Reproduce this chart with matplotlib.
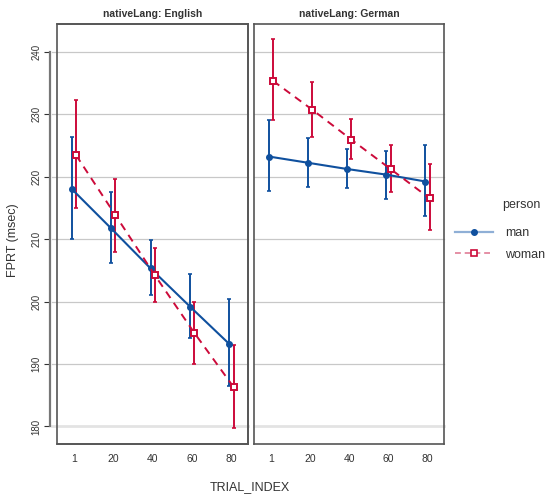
import matplotlib
matplotlib.use('Agg')
import matplotlib.pyplot as plt
from matplotlib.lines import Line2D
from matplotlib.patches import Rectangle
import numpy as np

plt.rcParams['font.family'] = ['Liberation Sans', 'DejaVu Sans']

# data
trial_labels = ['1', '20', '40', '60', '80']
panels = ['English', 'German']

man_eng = [218.0, 211.7, 205.3, 199.2, 193.2]
man_eng_lo = [210.0, 206.2, 201.1, 194.2, 186.4]
man_eng_hi = [226.4, 217.5, 209.9, 204.4, 200.4]

woman_eng = [223.4, 213.8, 204.2, 195.0, 186.3]
woman_eng_lo = [215.0, 208.0, 199.9, 190.0, 179.7]
woman_eng_hi = [232.2, 219.6, 208.6, 200.0, 193.1]

man_ger = [223.2, 222.2, 221.2, 220.3, 219.2]
man_ger_lo = [217.7, 218.4, 218.1, 216.4, 213.7]
man_ger_hi = [229.0, 226.2, 224.4, 224.1, 225.0]

woman_ger = [235.3, 230.7, 225.9, 221.2, 216.5]
woman_ger_lo = [229.0, 226.4, 222.8, 217.5, 211.5]
woman_ger_hi = [242.0, 235.2, 229.2, 225.0, 222.0]

y_ticks = [180, 190, 200, 210, 220, 230, 240]

blue = '#0F509E'
red = '#CC0A3A'
grid_col = '#C8C8C8'

data = {
    'English': [(man_eng, man_eng_lo, man_eng_hi), (woman_eng, woman_eng_lo, woman_eng_hi)],
    'German': [(man_ger, man_ger_lo, man_ger_hi), (woman_ger, woman_ger_lo, woman_ger_hi)],
}

fig = plt.figure(figsize=(5.46, 4.96), dpi=100)
ax_left = fig.add_axes([57/546, 1-444/496, 191/546, 420/496])
ax_right = fig.add_axes([254/546, 1-444/496, 190/546, 420/496])

x = np.arange(1, 6)
dodge = 0.055

for ax, lang in zip([ax_left, ax_right], panels):
    (m, mlo, mhi), (w, wlo, whi) = data[lang]
    m = np.array(m); w = np.array(w)
    # grid lines (left panel's reach out to the y axis line)
    x0 = -5/191 if ax is ax_left else 0
    for yt in y_ticks:
        if yt == 180:
            ax.axhline(yt, xmin=x0, color='#E3E3E3', lw=2.0, zorder=0, clip_on=False)
        else:
            ax.axhline(yt, xmin=x0, color=grid_col, lw=0.9, zorder=0, clip_on=False)
    ax.errorbar(x - dodge, m, yerr=[m - np.array(mlo), np.array(mhi) - m],
                fmt='none', ecolor=blue, elinewidth=1.4, capsize=1.5, capthick=1.2, zorder=2)
    ax.errorbar(x + dodge, w, yerr=[w - np.array(wlo), np.array(whi) - w],
                fmt='none', ecolor=red, elinewidth=1.4, capsize=1.5, capthick=1.2, zorder=2)
    ax.plot(x - dodge, m, color=blue, lw=1.5, marker='o', ms=4, zorder=3)
    ax.plot(x + dodge, w, color=red, lw=1.4, ls=(0, (4, 3)), marker='s', ms=5,
            mfc='white', mec=red, mew=1.4, zorder=4)

    ax.set_xlim(0.57, 5.42)
    ax.set_ylim(177.2, 244.4)
    ax.set_xticks(x)
    ax.set_xticklabels(trial_labels, fontsize=7.5, color='#333333')
    ax.tick_params(axis='x', length=0, pad=7)
    ax.set_title('nativeLang: ' + lang, fontsize=7.5, fontweight='bold', color='#333333', pad=5)
    for s in ax.spines.values():
        s.set_color('#555555')
        s.set_linewidth(1.2)

ax_right.set_yticks([])

# left y axis drawn outside the panel
ax_left.add_patch(Rectangle((0, 0), 1, 1, transform=ax_left.transAxes, fill=False,
                            ec='#555555', lw=1.2, clip_on=False, zorder=5))
ax_left.spines['left'].set_position(('outward', 5))
ax_left.spines['left'].set_bounds(180, 240)
ax_left.spines['left'].set_color('#777777')
ax_left.spines['left'].set_linewidth(1.6)
ax_left.tick_params(axis='y', length=4, pad=2, color='#333333')
ax_left.set_yticks(y_ticks)
ax_left.set_yticklabels([str(v) for v in y_ticks], rotation=90, va='center', ha='right',
                        fontsize=7, color='#333333')

fig.text(13/546, 1-240/496, 'FPRT (msec)', rotation=90, ha='center', va='center',
         fontsize=9, color='#333333')
fig.text(250/546, 1-487/496, 'TRIAL_INDEX', ha='center', va='center',
         fontsize=9, color='#333333')

handles = [
    Line2D([], [], color='#8FAFD6', lw=1.6, marker='o', ms=4, mfc=blue, mec=blue),
    Line2D([], [], color='#E58FA5', lw=1.4, ls=(0, (3, 2)), marker='s', ms=4,
           mfc='white', mec=red, mew=1.2),
]
fig.text(521/546, 1-205/496, 'person', ha='center', va='center', fontsize=9, color='#333333')
leg = fig.legend(handles, ['man', 'woman'], loc='center left',
                 bbox_to_anchor=(444/546, 1-244/496), frameon=False, fontsize=9,
                 handlelength=3.0, handletextpad=1.0, labelspacing=0.75)
for t in leg.get_texts():
    t.set_color('#333333')

fig.savefig('out.png', dpi=100)
